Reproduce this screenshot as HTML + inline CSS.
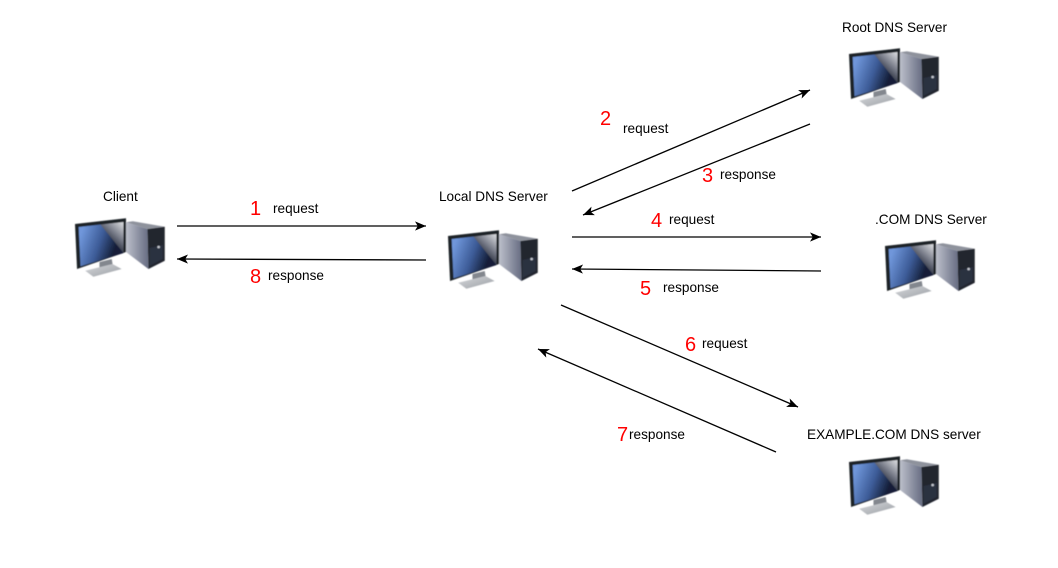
<!DOCTYPE html>
<html>
<head>
<meta charset="utf-8">
<style>
html,body{margin:0;padding:0;background:#fff;width:1058px;height:568px;overflow:hidden}
svg{display:block}
text{font-family:"Liberation Sans",Arial,sans-serif}
.l{font-size:13.6px;fill:#000}
.n{font-size:20px;fill:#f00}
.a{stroke:#000;stroke-width:1.3;fill:none;marker-end:url(#ah)}
</style>
</head>
<body>
<svg width="1058" height="568" viewBox="0 0 1058 568" xmlns="http://www.w3.org/2000/svg">
<defs>
<filter id="soft" x="-5%" y="-5%" width="110%" height="110%"><feGaussianBlur stdDeviation="0.4"/></filter>
<marker id="ah" viewBox="0 0 12 10" refX="12" refY="5" markerWidth="11" markerHeight="10" markerUnits="userSpaceOnUse" orient="auto">
<path d="M0 0L12 5L0 10L3 5Z" fill="#000"/>
</marker>
<linearGradient id="blue" gradientUnits="userSpaceOnUse" x1="4" y1="22" x2="38" y2="34">
<stop offset="0" stop-color="#6f96da"/><stop offset=".55" stop-color="#3d5c98"/><stop offset="1" stop-color="#141e38"/>
</linearGradient>
<linearGradient id="gl" gradientUnits="userSpaceOnUse" x1="30" y1="24" x2="47" y2="6">
<stop offset="0" stop-color="#1a2030"/><stop offset=".5" stop-color="#777b88"/><stop offset="1" stop-color="#d2d4d8"/>
</linearGradient>
<linearGradient id="side" x1="0" y1="0" x2="1" y2="0">
<stop offset="0" stop-color="#bcbfca"/><stop offset="1" stop-color="#666c82"/>
</linearGradient>
<linearGradient id="stand" x1="0" y1="0" x2="1" y2="1">
<stop offset="0" stop-color="#d6d8db"/><stop offset="1" stop-color="#9a9ea4"/>
</linearGradient>
<g id="pc" filter="url(#soft)" transform="scale(1.02 1)">
<polygon points="50,4.3 56.7,3.3 88,8.7 71,11" fill="#8e929c"/>
<polygon points="50,4.3 71,11 72,51 50,34" fill="url(#side)"/>
<polygon points="71,11 88,8.7 88,42.7 72,51" fill="#23252e"/>
<polygon points="73,30 86,27 86,41 73,48" fill="#2a3040"/>
<circle cx="82" cy="29" r="1.3" fill="#c4c8d0"/>
<polygon points="24,44 36,41 37,47 24,50" fill="#83878e"/>
<polygon points="10,52.7 36.7,46 45.7,51 18,58.7" fill="url(#stand)"/>
<polygon points="0,6 50,0.3 50,34 2,51" fill="#1d2026"/>
<polygon points="3.6,9 47.5,4 47.5,35 5.4,48.2" fill="url(#gl)"/>
<polygon points="3.6,9 25,6.6 47.5,35 5.4,48.2" fill="url(#blue)"/>
</g>
</defs>

<use href="#pc" x="75" y="218"/>
<use href="#pc" x="448" y="230"/>
<use href="#pc" x="849" y="48"/>
<use href="#pc" x="885" y="240"/>
<use href="#pc" x="849" y="456"/>

<line class="a" x1="177" y1="226" x2="426" y2="226"/>
<line class="a" x1="426" y1="260" x2="177" y2="259"/>
<line class="a" x1="572" y1="191" x2="810" y2="90"/>
<line class="a" x1="810" y1="124" x2="583" y2="215"/>
<line class="a" x1="572" y1="237" x2="821" y2="237"/>
<line class="a" x1="821" y1="271" x2="572" y2="269"/>
<line class="a" x1="561" y1="305" x2="798" y2="407"/>
<line class="a" x1="776" y1="452" x2="538" y2="349"/>

<text class="l" x="103" y="201">Client</text>
<text class="l" x="439" y="201">Local DNS Server</text>
<text class="l" x="842" y="32">Root DNS Server</text>
<text class="l" x="875" y="224">.COM DNS Server</text>
<text class="l" x="807" y="439">EXAMPLE.COM DNS server</text>

<text class="l" x="273" y="213">request</text>
<text class="l" x="268" y="280">response</text>
<text class="l" x="623" y="133">request</text>
<text class="l" x="720" y="179">response</text>
<text class="l" x="669" y="224">request</text>
<text class="l" x="663" y="292">response</text>
<text class="l" x="702" y="348">request</text>
<text class="l" x="629" y="439">response</text>

<text class="n" x="250" y="215">1</text>
<text class="n" x="250" y="283">8</text>
<text class="n" x="600" y="125">2</text>
<text class="n" x="702" y="182">3</text>
<text class="n" x="651" y="227">4</text>
<text class="n" x="640" y="295">5</text>
<text class="n" x="685" y="351">6</text>
<text class="n" x="617" y="441">7</text>
</svg>
</body>
</html>
